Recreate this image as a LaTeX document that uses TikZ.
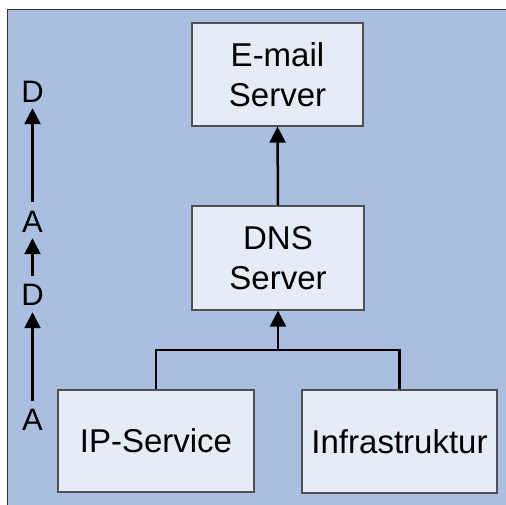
\documentclass[tikz,border=0pt]{standalone}
\usepackage{fontspec}
\setmainfont{Liberation Sans}
\usetikzlibrary{arrows.meta}
\definecolor{bgblue}{RGB}{169,190,224}
\definecolor{boxfill}{RGB}{230,236,246}
\definecolor{boxline}{RGB}{80,80,80}
\tikzset{
  srvbox/.style={draw=boxline, line width=1.3pt, fill=boxfill, align=center,
    inner sep=0pt, font=\fontsize{33}{40}\selectfont},
  letter/.style={inner sep=0pt, text height=21pt, text depth=0pt,
    font=\fontsize{31}{36}\selectfont},
  conn/.style={line width=2.5pt, draw=black},
  arr/.style={conn, -{Triangle[length=16pt,width=16pt]}},
}
\begin{document}
\begin{tikzpicture}[x=1pt,y=-1pt]
  \useasboundingbox (0,0) rectangle (506,505);
  % panel: open on the right and bottom, where it runs off the page
  \fill[bgblue] (7.5,9.5) rectangle (506,505);
  \draw[draw=black!80, line width=1.2pt] (7.5,505) -- (7.5,9.5) -- (506,9.5);

  % servers and sources
  \node[srvbox, minimum width=171pt, minimum height=103pt] (mail) at (277.5,74.5) {E-mail\\Server};
  \node[srvbox, minimum width=172pt, minimum height=104pt] (dns) at (278,258) {DNS\\Server};
  \node[srvbox, minimum width=196pt, minimum height=102pt] (ip) at (156,441) {IP-Service};
  \node[srvbox, minimum width=195pt, minimum height=103pt] (infra) at (399.5,441.5) {Infrastruktur};

  % connectors
  \coordinate (join) at (278,350);
  \draw[conn, line join=miter] (ip.north) |- (join) -| (infra.north);
  \draw[arr] (join) -- (dns.south);
  \draw[arr] (dns.north) -- (mail.south);

  % A/D sequence on the left
  \node[letter] (d1) at (32.5,103) [anchor=base] {D};
  \node[letter] (a1) at (32.5,233) [anchor=base] {A};
  \node[letter] (d2) at (32.5,305) [anchor=base] {D};
  \node[letter] (a2) at (32.5,430) [anchor=base] {A};
  \draw[arr, shorten <=10pt, shorten >=5pt] (a1.north) -- (d1.south);
  \draw[arr, shorten <=8pt, shorten >=5pt] (d2.north) -- (a1.south);
  \draw[arr, shorten <=8pt, shorten >=7pt] (a2.north) -- (d2.south);
\end{tikzpicture}
\end{document}
